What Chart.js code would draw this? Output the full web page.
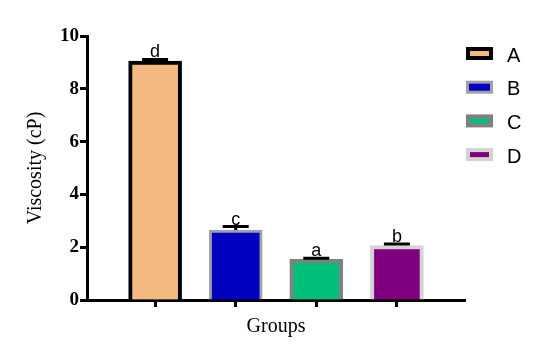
<!DOCTYPE html>
<html>
<head>
<meta charset="utf-8">
<script src="https://cdn.jsdelivr.net/npm/chart.js@4/dist/chart.umd.min.js"></script>
<style>
  html, body { margin: 0; padding: 0; background: #fff; }
  #wrap { width: 541px; height: 359px; }
</style>
</head>
<body>
<div id="wrap"><canvas id="c" width="541" height="359"></canvas></div>
<script>
// ---- data ----
const categories = ['A', 'B', 'C', 'D'];
const viscosity = [9.05, 2.65, 1.54, 2.06];
const errorSD = [0.06, 0.13, 0.04, 0.06];
const sigLetters = ['d', 'c', 'a', 'b'];
const yTicks = [0, 2, 4, 6, 8, 10];

// ---- styles ----
const fillColors = ['#F4B981', '#0000BF', '#00BF79', '#800080'];
const borderColors = ['#000000', '#A0A0AA', '#808080', '#D3D3D3'];
const borderWidths = [4, 3, 4, 4];

const errorBarPlugin = {
  id: 'errorBars',
  afterDatasetsDraw(chart) {
    const {ctx, scales: {x, y}} = chart;
    ctx.save();
    ctx.strokeStyle = '#000';
    ctx.lineWidth = 3;
    ctx.fillStyle = '#000';
    ctx.font = '18px "Liberation Sans", Arial, sans-serif';
    ctx.textAlign = 'center';
    ctx.textBaseline = 'alphabetic';
    viscosity.forEach((v, i) => {
      const px = x.getPixelForValue(i);
      const py0 = y.getPixelForValue(v);
      const py1 = y.getPixelForValue(v + errorSD[i]);
      ctx.beginPath();
      ctx.moveTo(px, py0);
      ctx.lineTo(px, py1);
      ctx.moveTo(px - 13, py1);
      ctx.lineTo(px + 13, py1);
      ctx.stroke();
      ctx.fillText(sigLetters[i], px, py1 - 2);
    });
    ctx.restore();
  }
};

const legendPlugin = {
  id: 'customLegend',
  afterDraw(chart) {
    const {ctx} = chart;
    ctx.save();
    ctx.font = '20px "Liberation Sans", Arial, sans-serif';
    ctx.textAlign = 'left';
    ctx.textBaseline = 'alphabetic';
    categories.forEach((c, i) => {
      const cy = 53.5 + i * 33.7;
      const bx = 466, bw = 27, bh = 13, b = borderWidths[i];
      ctx.fillStyle = borderColors[i];
      ctx.fillRect(bx, cy - bh / 2, bw, bh);
      ctx.fillStyle = fillColors[i];
      ctx.fillRect(bx + b, cy - bh / 2 + b, bw - 2 * b, bh - 2 * b);
      ctx.fillStyle = '#000';
      ctx.fillText(c, 507, cy + 8);
    });
    ctx.restore();
  }
};

new Chart(document.getElementById('c'), {
  type: 'bar',
  data: {
    datasets: [{
      data: viscosity.map((v, i) => ({x: i, y: v})),
      backgroundColor: fillColors,
      borderColor: borderColors,
      borderWidth: borderWidths,
      borderSkipped: 'bottom',
      barThickness: 53
    }]
  },
  plugins: [errorBarPlugin, legendPlugin],
  options: {
    responsive: false,
    animation: false,
    devicePixelRatio: 1,
    layout: { padding: { top: 36, right: 76, left: 0, bottom: 0 } },
    plugins: { legend: { display: false }, tooltip: { enabled: false } },
    scales: {
      x: {
        type: 'linear',
        min: -0.845,
        max: 3.845,
        offset: false,
        z: 1,
        afterBuildTicks(scale) { scale.ticks = categories.map((c, i) => ({value: i})); },
        afterFit(scale) { scale.height = 59; },
        ticks: { callback: () => '', padding: 0 },
        grid: { display: true, offset: false, drawOnChartArea: false, drawTicks: true, tickLength: 7, tickWidth: 3, tickColor: '#000' },
        border: { display: true, color: '#000', width: 3 },
        title: {
          display: true, text: 'Groups', color: '#000',
          font: { family: '"Liberation Serif", "Times New Roman", serif', size: 20 },
          padding: { top: 0, bottom: 20.5 }
        }
      },
      y: {
        min: 0,
        max: 10,
        z: 1,
        afterBuildTicks(scale) { scale.ticks = yTicks.map(v => ({value: v})); },
        afterFit(scale) { scale.width = 87; },
        ticks: {
          color: '#000', padding: 1,
          font: { family: '"Liberation Serif", "Times New Roman", serif', size: 19, weight: 'bold' }
        },
        grid: { display: true, drawOnChartArea: false, drawTicks: true, tickLength: 7, tickWidth: 3, tickColor: '#000' },
        border: { display: true, color: '#000', width: 3 },
        title: {
          display: true, text: 'Viscosity (cP)', color: '#000',
          font: { family: '"Liberation Serif", "Times New Roman", serif', size: 20 },
          padding: { top: 24, bottom: 0 }
        }
      }
    }
  }
});
</script>
</body>
</html>
